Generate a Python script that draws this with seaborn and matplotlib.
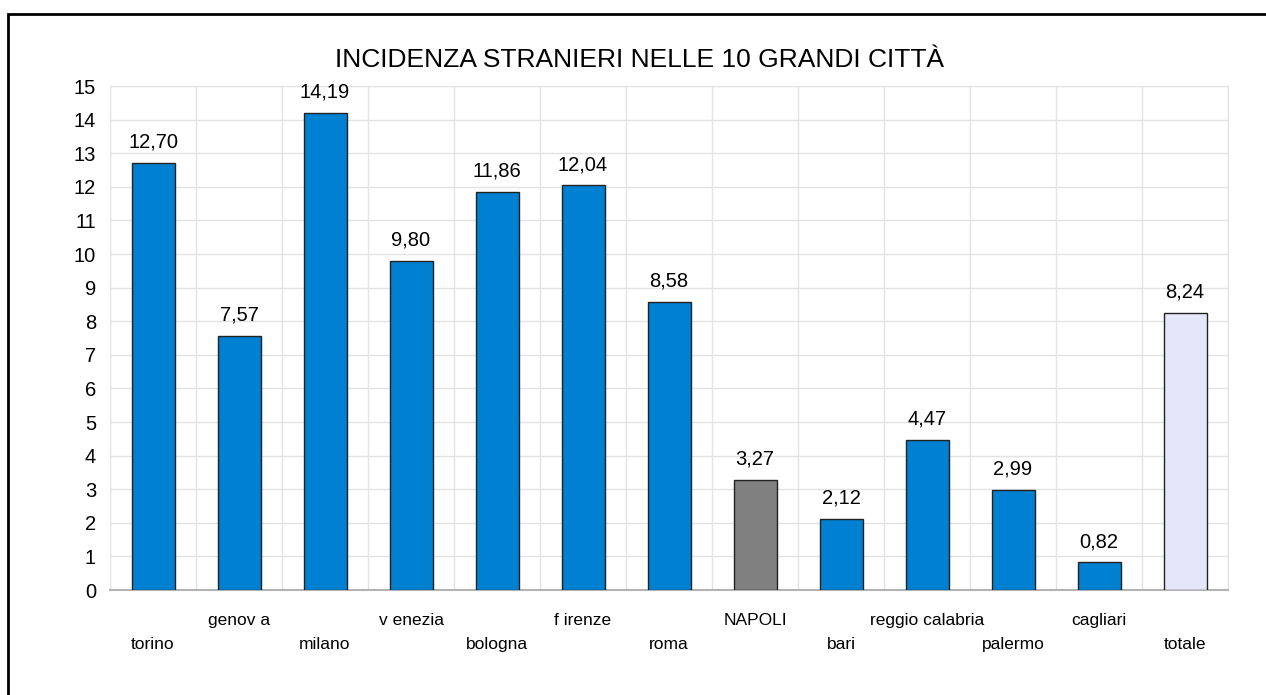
import matplotlib
matplotlib.use('Agg')
import matplotlib.pyplot as plt
import matplotlib.transforms as mtransforms
from matplotlib.patches import Rectangle
import pandas as pd
import seaborn as sns

# ----------------- data -----------------
cities = ['torino', 'genova', 'milano', 'venezia', 'bologna', 'firenze', 'roma',
          'NAPOLI', 'bari', 'reggio calabria', 'palermo', 'cagliari', 'totale']
# tick label text as shown (spacing quirks included)
tick_labels = ['torino', 'genov a', 'milano', 'v enezia', 'bologna', 'f irenze', 'roma',
               'NAPOLI', 'bari', 'reggio calabria', 'palermo', 'cagliari', 'totale']
incidence = [12.70, 7.57, 14.19, 9.80, 11.86, 12.04, 8.58,
             3.27, 2.12, 4.47, 2.99, 0.82, 8.24]
bar_colors = ['#0080d0'] * 7 + ['#808080'] + ['#0080d0'] * 4 + ['#e6e6fa']

title = 'INCIDENZA STRANIERI NELLE 10 GRANDI CITTÀ'

# ----------------- plot -----------------
sns.set_style('white')
plt.rcParams['font.family'] = ['Liberation Sans', 'DejaVu Sans']
plt.rcParams['text.color'] = 'black'
plt.rcParams['ytick.labelcolor'] = 'black'

df = pd.DataFrame({'city': cities, 'value': incidence})

fig = plt.figure(figsize=(12.66, 6.95), dpi=100)
ax = fig.add_axes([110 / 1266, 105 / 695, 1118 / 1266, 504 / 695])

sns.barplot(data=df, x='city', y='value', hue='city', order=cities,
            palette=dict(zip(cities, bar_colors)), legend=False, saturation=1,
            width=0.5, edgecolor='#222222', linewidth=1, ax=ax, zorder=3)

ax.set_ylim(0, 15)
ax.set_xlim(-0.5, len(cities) - 0.5)
ax.set_yticks(range(0, 16))
ax.tick_params(axis='y', labelsize=14.5, length=5, color='#b3b3b3', pad=5,
               labelcolor='black')

# vertical grid at category boundaries, ticks pointing down
ax.set_xticks([i - 0.5 for i in range(len(cities) + 1)], minor=True)
ax.set_xticks(range(len(cities)))
ax.set_xticklabels([])
ax.tick_params(axis='x', which='major', length=0)
ax.tick_params(axis='x', which='minor', length=8, color='#b3b3b3', width=1)
ax.grid(True, axis='y', color='#e3e3e3', linewidth=1, zorder=0)
ax.grid(True, axis='x', which='minor', color='#e3e3e3', linewidth=1, zorder=0)
ax.set_axisbelow(True)

for side in ['top', 'right', 'left']:
    ax.spines[side].set_color('#e3e3e3')
ax.spines['bottom'].set_color('#b3b3b3')
ax.spines['bottom'].set_linewidth(1.5)

ax.set_xlabel('')
ax.set_ylabel('')

# staggered category labels
trans = mtransforms.blended_transform_factory(ax.transData, ax.transAxes)
for i, lab in enumerate(tick_labels):
    y = -0.109 if i % 2 == 0 else -0.0615
    ax.text(i, y, lab, transform=trans, ha='center', va='center', fontsize=12.5)

# value labels
for i, v in enumerate(incidence):
    ax.annotate(f'{v:.2f}'.replace('.', ','), (i, v), xytext=(0, 15),
                textcoords='offset points', ha='center', va='center', fontsize=14.5)

fig.text(0.505, 1 - 60 / 695, title, ha='center', va='center', fontsize=19)

# outer frame
fig.patches.append(Rectangle((8 / 1266, -0.1), 1.2, 1 - 14 / 695 + 0.1,
                             transform=fig.transFigure, fill=False,
                             edgecolor='black', linewidth=2))

fig.savefig('out.png', dpi=100)
